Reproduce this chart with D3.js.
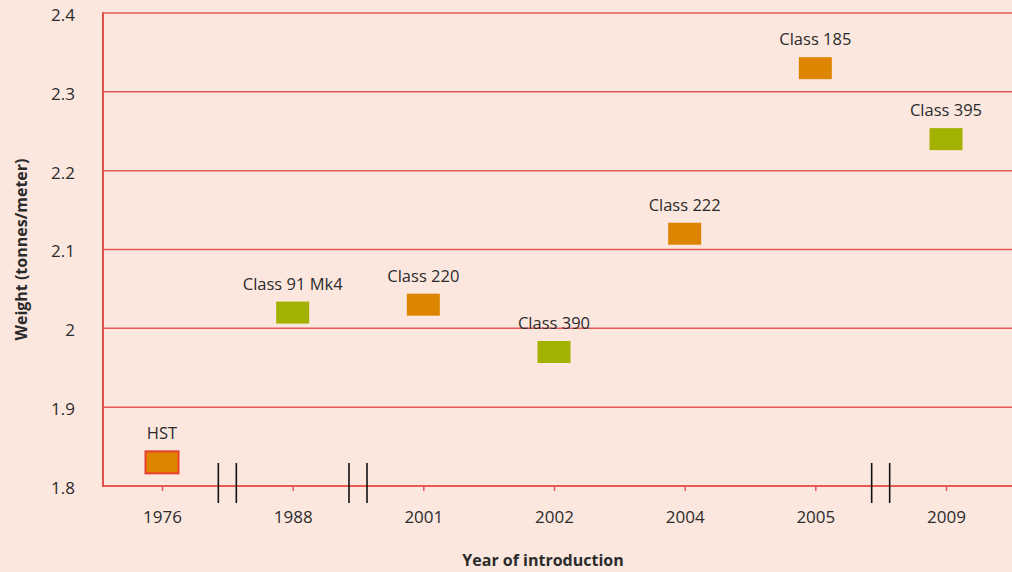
<!DOCTYPE html>
<html>
<head>
<meta charset="utf-8">
<script src="https://cdn.jsdelivr.net/npm/d3@7"></script>
<style>
  html, body { margin: 0; padding: 0; background: #fce7df; }
  svg { display: block; }
  text { font-family: "Open Sans", "Noto Sans", sans-serif; fill: #2b2b2b; }
</style>
</head>
<body>
<svg id="chart" width="1012" height="572"></svg>
<script>
// Year categories along the x axis
const years = ["1976", "1988", "2001", "2002", "2004", "2005", "2009"];
// Y axis ticks (tonnes per metre)
const yTicks = [1.8, 1.9, 2.0, 2.1, 2.2, 2.3, 2.4];
// Train classes, their year of introduction, weight per metre and group
const trainNames = ["HST", "Class 91 Mk4", "Class 220", "Class 390", "Class 222", "Class 185", "Class 395"];
const trainYears = ["1976", "1988", "2001", "2002", "2004", "2005", "2009"];
const trainWeights = [1.83, 2.02, 2.03, 1.97, 2.12, 2.33, 2.24];
const trainGroups = ["diesel", "electric", "diesel", "electric", "diesel", "diesel", "electric"];
// Axis breaks drawn between these neighbouring years
const axisBreaks = [["1976", "1988"], ["1988", "2001"], ["2005", "2009"]];

const groupColor = { diesel: "#de8500", electric: "#a3b200" };
const gridColor = "#e85a56";

const svg = d3.select("#chart");
const W = 1012, H = 572;
const margin = { left: 103, top: 13, bottom: 86 };
const plotBottom = H - margin.bottom;

const x = d3.scalePoint().domain(years).range([162, 946]);
const y = d3.scaleLinear().domain([1.8, 2.4]).range([plotBottom, margin.top]);

const data = trainNames.map((n, i) => ({
  name: n, year: trainYears[i], weight: trainWeights[i], group: trainGroups[i]
}));

// horizontal gridlines
svg.append("g")
  .selectAll("line")
  .data(yTicks)
  .join("line")
  .attr("x1", margin.left).attr("x2", W)
  .attr("y1", d => y(d)).attr("y2", d => y(d))
  .attr("stroke", gridColor)
  .attr("stroke-width", d => d === 1.8 ? 2 : 1.5);

// left axis line
svg.append("line")
  .attr("x1", margin.left).attr("x2", margin.left)
  .attr("y1", y(2.4) - 0.75).attr("y2", y(1.8) + 1)
  .attr("stroke", "#e04f4b").attr("stroke-width", 2);

// y tick labels
svg.append("g")
  .selectAll("text")
  .data(yTicks)
  .join("text")
  .attr("x", 75)
  .attr("y", d => y(d) + 2)
  .attr("dy", "0.35em")
  .attr("text-anchor", "end")
  .style("font-size", "17px")
  .text(d => d3.format(".2~f")(d));

// x axis ticks and labels
const xAxis = svg.append("g").attr("transform", `translate(0,${plotBottom})`)
  .call(d3.axisBottom(x).tickSize(5).tickPadding(20))
  .call(g => g.select(".domain").remove());
xAxis.selectAll(".tick line").attr("stroke", gridColor).attr("stroke-width", 1.5);
xAxis.selectAll(".tick text")
  .style("font-size", "17px")
  .style("font-family", "'Open Sans', 'Noto Sans', sans-serif")
  .attr("fill", "#2b2b2b");

// axis break marks
const breakGap = 18;
const breaks = svg.append("g");
axisBreaks.forEach(([a, b]) => {
  const mid = (x(a) + x(b)) / 2;
  [-breakGap / 2, breakGap / 2].forEach(off => {
    breaks.append("line")
      .attr("x1", mid + off).attr("x2", mid + off)
      .attr("y1", plotBottom - 23).attr("y2", plotBottom + 17)
      .attr("stroke", "#111").attr("stroke-width", 1.6);
  });
});

// markers
const rw = 33, rh = 22;
const marks = svg.append("g");
marks.selectAll("rect")
  .data(data)
  .join("rect")
  .attr("x", d => x(d.year) - rw / 2)
  .attr("y", d => y(d.weight) - rh / 2)
  .attr("width", rw).attr("height", rh)
  .attr("fill", d => groupColor[d.group])
  .attr("stroke", d => d.name === "HST" ? "#e8402f" : "none")
  .attr("stroke-width", 2);

marks.selectAll("text")
  .data(data)
  .join("text")
  .attr("x", d => x(d.year))
  .attr("y", d => y(d.weight) - rh / 2 - 12)
  .attr("text-anchor", "middle")
  .style("font-size", "16.5px")
  .text(d => d.name);

// axis titles
svg.append("text")
  .attr("x", 543).attr("y", 566)
  .attr("text-anchor", "middle")
  .style("font-size", "16px").style("font-weight", "bold")
  .attr("fill", "#111")
  .text("Year of introduction");

svg.append("text")
  .attr("transform", `translate(27,${(margin.top + plotBottom) / 2}) rotate(-90)`)
  .attr("text-anchor", "middle")
  .style("font-size", "16px").style("font-weight", "bold")
  .attr("fill", "#111")
  .text("Weight (tonnes/meter)");
</script>
</body>
</html>
